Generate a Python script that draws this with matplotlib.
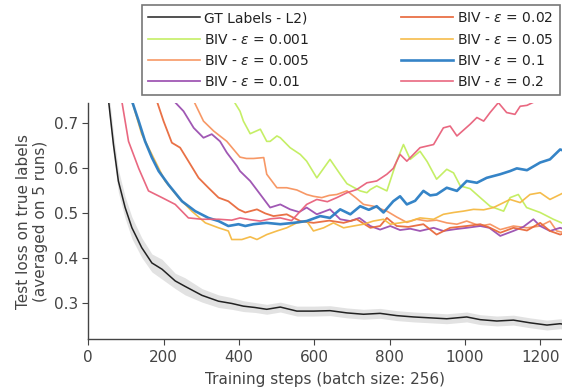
import matplotlib
matplotlib.use("Agg")
import matplotlib.pyplot as plt
import numpy as np

# ---------------- data ----------------
gt_steps = [54, 67, 80, 98, 116, 142, 169, 196, 231, 257, 302, 346, 381, 412, 443, 474, 510, 554,
            598, 642, 687, 731, 775, 819, 864, 908, 952, 1005, 1041, 1085, 1129, 1173, 1218, 1253, 1260]
gt_vals = [0.75, 0.653, 0.572, 0.513, 0.468, 0.424, 0.390, 0.376, 0.350, 0.338, 0.318, 0.305, 0.300,
           0.294, 0.291, 0.287, 0.292, 0.283, 0.283, 0.284, 0.279, 0.276, 0.278, 0.273, 0.270, 0.268,
           0.266, 0.270, 0.264, 0.261, 0.263, 0.257, 0.252, 0.255, 0.254]
gt_std = [0.025, 0.025, 0.025, 0.024, 0.024, 0.022, 0.02, 0.022, 0.017, 0.019, 0.015, 0.014, 0.013,
          0.012, 0.011, 0.011, 0.011, 0.011, 0.011, 0.011, 0.011, 0.011, 0.011, 0.011, 0.011, 0.011,
          0.011, 0.011, 0.011, 0.011, 0.011, 0.011, 0.011, 0.011, 0.011]

e0001_steps = [386, 403, 412, 430, 457, 474, 483, 501, 510, 536, 563, 580, 607, 642, 669, 687, 722,
               740, 749, 766, 793, 819, 837, 855, 881, 900, 925, 952, 970, 988, 1014, 1041, 1067,
               1103, 1120, 1142, 1164, 1200, 1235, 1257]
e0001_vals = [0.75, 0.727, 0.705, 0.677, 0.687, 0.660, 0.660, 0.672, 0.668, 0.646, 0.631, 0.616,
              0.579, 0.620, 0.587, 0.566, 0.550, 0.546, 0.553, 0.561, 0.550, 0.616, 0.653, 0.620,
              0.638, 0.615, 0.576, 0.598, 0.590, 0.561, 0.555, 0.535, 0.516, 0.505, 0.535, 0.542,
              0.513, 0.502, 0.487, 0.479]

e0005_steps = [280, 306, 333, 368, 403, 420, 439, 466, 474, 501, 527, 554, 580, 598, 620, 640,
               660, 687, 710, 731, 757, 793, 819, 846, 872, 900, 925, 952, 979, 1005, 1041, 1067,
               1094, 1129, 1165, 1200, 1226, 1244, 1260]
e0005_vals = [0.75, 0.705, 0.683, 0.660, 0.625, 0.622, 0.622, 0.624, 0.587, 0.557, 0.557, 0.552,
              0.542, 0.538, 0.535, 0.540, 0.542, 0.550, 0.535, 0.520, 0.516, 0.505, 0.492, 0.480,
              0.487, 0.483, 0.485, 0.479, 0.476, 0.483, 0.472, 0.476, 0.464, 0.472, 0.468, 0.472,
              0.483, 0.461, 0.458]

e001_steps = [227, 253, 280, 306, 328, 350, 368, 395, 403, 430, 457, 483, 510, 536, 560, 580, 607,
              642, 669, 696, 720, 749, 775, 802, 828, 855, 881, 917, 943, 975, 1005, 1041, 1065,
              1094, 1129, 1155, 1182, 1200, 1226, 1253, 1260]
e001_vals = [0.75, 0.727, 0.690, 0.668, 0.676, 0.660, 0.635, 0.605, 0.594, 0.572, 0.542, 0.513,
             0.520, 0.509, 0.503, 0.513, 0.498, 0.509, 0.487, 0.483, 0.490, 0.472, 0.464, 0.472,
             0.463, 0.466, 0.461, 0.468, 0.461, 0.465, 0.468, 0.472, 0.468, 0.450, 0.461, 0.470,
             0.487, 0.472, 0.461, 0.468, 0.466]

e002_steps = [182, 200, 222, 244, 266, 293, 319, 346, 372, 399, 417, 448, 470, 492, 527, 563,
              598, 640, 678, 713, 749, 775, 793, 819, 850, 890, 925, 961, 1005, 1041, 1067, 1094,
              1129, 1165, 1200, 1226, 1253, 1260]
e002_vals = [0.75, 0.705, 0.657, 0.646, 0.616, 0.579, 0.557, 0.535, 0.527, 0.509, 0.502, 0.509,
             0.500, 0.494, 0.498, 0.483, 0.479, 0.484, 0.479, 0.487, 0.468, 0.472, 0.490, 0.472,
             0.470, 0.476, 0.453, 0.468, 0.472, 0.476, 0.468, 0.457, 0.468, 0.462, 0.479, 0.461,
             0.453, 0.455]

e005_steps = [116, 142, 160, 182, 204, 240, 275, 311, 346, 372, 381, 408, 430, 448, 474, 501, 527,
              554, 580, 598, 625, 651, 678, 704, 731, 757, 784, 802, 828, 855, 881, 917, 943, 970,
              996, 1023, 1050, 1076, 1103, 1120, 1147, 1173, 1200, 1226, 1253, 1260]
e005_vals = [0.75, 0.676, 0.646, 0.609, 0.572, 0.535, 0.505, 0.479, 0.468, 0.461, 0.442, 0.442,
             0.448, 0.442, 0.453, 0.461, 0.468, 0.479, 0.483, 0.461, 0.468, 0.479, 0.468, 0.472,
             0.476, 0.483, 0.487, 0.476, 0.479, 0.483, 0.490, 0.487, 0.498, 0.502, 0.505, 0.509,
             0.508, 0.513, 0.524, 0.531, 0.524, 0.542, 0.546, 0.531, 0.542, 0.545]

e01_steps = [116, 134, 151, 169, 187, 213, 249, 284, 319, 346, 372, 399, 417, 439, 474, 510, 545,
             580, 616, 642, 669, 696, 722, 745, 766, 784, 810, 828, 846, 868, 890, 908, 925, 952,
             979, 1005, 1032, 1058, 1094, 1120, 1138, 1165, 1200, 1226, 1253, 1260]
e01_vals = [0.75, 0.705, 0.660, 0.624, 0.594, 0.564, 0.527, 0.505, 0.490, 0.483, 0.472, 0.476,
            0.472, 0.476, 0.479, 0.476, 0.479, 0.483, 0.494, 0.490, 0.509, 0.498, 0.516, 0.508,
            0.516, 0.502, 0.527, 0.538, 0.520, 0.528, 0.550, 0.540, 0.542, 0.557, 0.550, 0.572,
            0.568, 0.579, 0.587, 0.594, 0.600, 0.596, 0.613, 0.620, 0.642, 0.640]

e02_steps = [89, 107, 134, 160, 196, 231, 266, 302, 346, 381, 403, 430, 457, 484, 510, 540, 580,
             607, 635, 660, 687, 713, 740, 766, 793, 810, 828, 846, 881, 917, 943, 961, 979, 1014,
             1032, 1050, 1067, 1089, 1111, 1133, 1147, 1165, 1185]
e02_vals = [0.75, 0.660, 0.600, 0.550, 0.535, 0.520, 0.490, 0.487, 0.487, 0.485, 0.490, 0.486,
            0.483, 0.488, 0.490, 0.484, 0.520, 0.531, 0.526, 0.535, 0.546, 0.553, 0.568, 0.572,
            0.587, 0.600, 0.631, 0.616, 0.646, 0.653, 0.690, 0.694, 0.672, 0.698, 0.713, 0.705,
            0.724, 0.746, 0.724, 0.720, 0.738, 0.740, 0.748]

labels = ["GT Labels - L2)", r"BIV - $\epsilon$ = 0.001", r"BIV - $\epsilon$ = 0.005",
          r"BIV - $\epsilon$ = 0.01", r"BIV - $\epsilon$ = 0.02", r"BIV - $\epsilon$ = 0.05",
          r"BIV - $\epsilon$ = 0.1", r"BIV - $\epsilon$ = 0.2"]

x_ticks = [0, 200, 400, 600, 800, 1000, 1200]
y_ticks = [0.3, 0.4, 0.5, 0.6, 0.7]

# ---------------- plotting ----------------
plt.rcParams['font.family'] = ['DejaVu Sans']
fig = plt.figure(figsize=(5.62, 3.92), dpi=100)
ax = fig.add_axes([0.157, 0.134, 0.843, 0.603])

txt = '#444444'
colors = ['#222222', '#c2ee5e', '#f7935e', '#9b4fb0', '#e8693c', '#f5b942', '#2a7dc4', '#e8607a']
series = [(e0001_steps, e0001_vals), (e0005_steps, e0005_vals), (e001_steps, e001_vals),
          (e002_steps, e002_vals), (e005_steps, e005_vals), (e01_steps, e01_vals),
          (e02_steps, e02_vals)]
widths = [1.2, 1.2, 1.3, 1.3, 1.2, 1.9, 1.2]

gs = np.array(gt_steps); gv = np.array(gt_vals); gsd = np.array(gt_std)
ax.fill_between(gs, gv - gsd, gv + gsd, color='#e2e2e2', lw=0, zorder=1)
handles = []
h, = ax.plot(gs, gv, color=colors[0], lw=1.1, zorder=5)
handles.append(h)
for (s, v), c, w in zip(series, colors[1:], widths):
    h, = ax.plot(s, v, color=c, lw=w, zorder=3, alpha=0.95)
    handles.append(h)

ax.set_xlim(0, 1258)
ax.set_ylim(0.22, 0.745)
ax.set_xticks(x_ticks)
ax.set_yticks(y_ticks)
ax.set_yticklabels([f"{t:.1f}" for t in y_ticks])
for sp in ['top', 'right']:
    ax.spines[sp].set_visible(False)
for sp in ['left', 'bottom']:
    ax.spines[sp].set_color('#444444')
    ax.spines[sp].set_linewidth(1.0)
ax.tick_params(colors=txt, labelsize=11, length=4, width=0.8, labelcolor=txt)
ax.set_xlabel("Training steps (batch size: 256)", fontsize=11, color=txt, labelpad=5)
ax.set_ylabel("Test loss on true labels\n(averaged on 5 runs)", fontsize=11, color=txt, labelpad=4)

leg = fig.legend(handles, labels, ncol=2, loc='upper left', bbox_to_anchor=(0.253, 0.765, 0.743, 0.222),
                 mode='expand', fontsize=10, frameon=True, fancybox=False, handlelength=3.7,
                 borderaxespad=0, labelspacing=0.52, columnspacing=0.5, handletextpad=0.3,
                 borderpad=0.45)
leg.get_frame().set_edgecolor('#555555')
leg.get_frame().set_linewidth(1.2)
for t in leg.get_texts():
    t.set_color('#222222')

fig.savefig("out.png", dpi=100)
